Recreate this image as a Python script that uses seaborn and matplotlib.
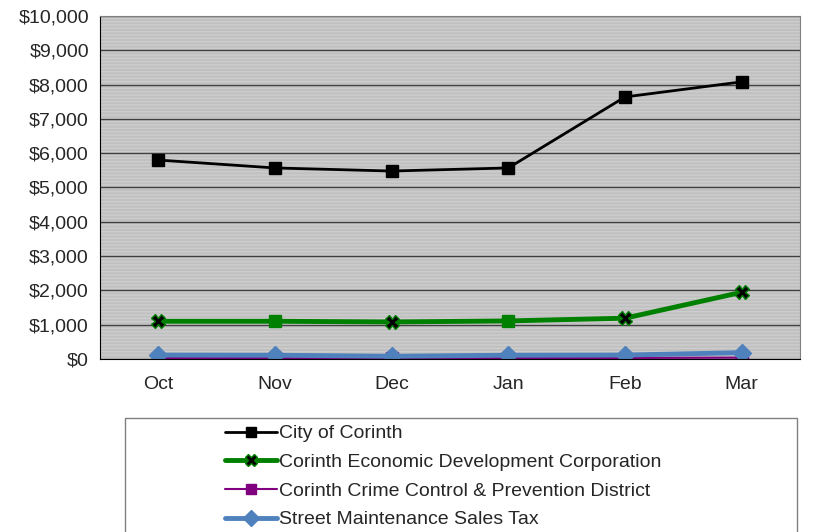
import pandas as pd
import numpy as np
import seaborn as sns
import matplotlib.pyplot as plt
from matplotlib.patches import Rectangle

months = ['Oct', 'Nov', 'Dec', 'Jan', 'Feb', 'Mar']
city = [5800, 5570, 5480, 5570, 7640, 8080]
edc = [1100, 1100, 1080, 1110, 1190, 1945]
crime = [30, 30, 20, 30, 30, 40]
street = [115, 110, 80, 110, 115, 185]

series_names = ['City of Corinth', 'Corinth Economic Development Corporation',
                'Corinth Crime Control & Prevention District', 'Street Maintenance Sales Tax']

df = pd.DataFrame({'month': months * 4,
                   'value': city + edc + crime + street,
                   'series': np.repeat(series_names, len(months))})
df['x'] = list(range(len(months))) * 4

sns.set_style('white')
plt.rcParams['font.family'] = ['Liberation Sans', 'DejaVu Sans']
plt.rcParams['font.size'] = 14

fig = plt.figure(figsize=(8.39, 5.32), dpi=100)
ax = fig.add_axes([100 / 839, 1 - 359 / 532, 700 / 839, 343 / 532])
ax.set_facecolor('#C0C0C0')
# faint stripe texture of the plot area
ax.add_patch(Rectangle((0, 0), 1, 1, transform=ax.transAxes, facecolor='none',
                       edgecolor='#CDCDCD', hatch='-----', lw=0, zorder=0))
for s in ['top', 'right']:
    ax.spines[s].set_color('#808080')
for s in ['left', 'bottom']:
    ax.spines[s].set_color('black')

styles = {
    'City of Corinth': dict(color='black', lw=2, marker='s', ms=8, mfc='black', mec='black'),
    'Corinth Economic Development Corporation': dict(color='#008000', lw=3.5, marker='X', ms=10,
                                                     mfc='black', mec='#008000'),
    'Corinth Crime Control & Prevention District': dict(color='#800080', lw=1.5, marker='s', ms=8,
                                                        mfc='#800080', mec='#800080'),
    'Street Maintenance Sales Tax': dict(color='#4F81BD', lw=3.5, marker='D', ms=9,
                                        mfc='#4F81BD', mec='#4F81BD'),
}
# EDC shows X markers except at Nov and Jan, where green squares are drawn
edc_x_idx = [0, 2, 4, 5]
order = ['Corinth Crime Control & Prevention District', 'Street Maintenance Sales Tax',
         'Corinth Economic Development Corporation', 'City of Corinth']
for name in order:
    st = styles[name]
    sub = df[df['series'] == name]
    every = edc_x_idx if name == series_names[1] else None
    sns.lineplot(data=sub, x='x', y='value', ax=ax, color=st['color'], lw=st['lw'],
                 marker=st['marker'], markersize=st['ms'], markerfacecolor=st['mfc'],
                 markeredgecolor=st['mec'], markeredgewidth=1, markevery=every)

sub = df[(df['series'] == series_names[1]) & (df['month'].isin(['Nov', 'Jan']))]
ax.plot(sub['x'], sub['value'], ls='none', marker='s', ms=8.5, color='#008000')

ax.set_ylim(0, 10000)
ax.set_xlim(-0.5, len(months) - 0.5)
ax.set_yticks(np.arange(0, 10001, 1000))
ax.set_yticklabels(['${:,.0f}'.format(v) for v in np.arange(0, 10001, 1000)])
ax.yaxis.grid(True, color='#404040', lw=1)
ax.set_axisbelow(True)
ax.set_xticks(range(len(months)))
ax.set_xticklabels(months)
ax.set_xticks(np.arange(-0.5, len(months), 1), minor=True)
ax.tick_params(axis='x', which='major', length=0, pad=12)
ax.tick_params(axis='x', which='minor', length=5, color='black', direction='out')
ax.tick_params(axis='y', length=5, color='black', direction='out', pad=3)
ax.set_xlabel('')
ax.set_ylabel('')

# legend box
fig.patches.append(Rectangle((125 / 839, -0.01), 672 / 839, 1 - 418 / 532 + 0.01,
                             transform=fig.transFigure, facecolor='white',
                             edgecolor='#808080', lw=1))
handles = []
for name in series_names:
    st = styles[name]
    h, = ax.plot([], [], color=st['color'], lw=st['lw'], marker=st['marker'],
                 ms=st['ms'] - 1, mfc=st['mfc'], mec=st['mec'])
    handles.append(h)
fig.legend(handles, series_names, loc='upper left', bbox_to_anchor=(217 / 839, 1 - 417 / 532),
           frameon=False, handlelength=2.7, handletextpad=0.08, labelspacing=0.57,
           borderaxespad=0, fontsize=14)

fig.savefig('out.png', dpi=100)
